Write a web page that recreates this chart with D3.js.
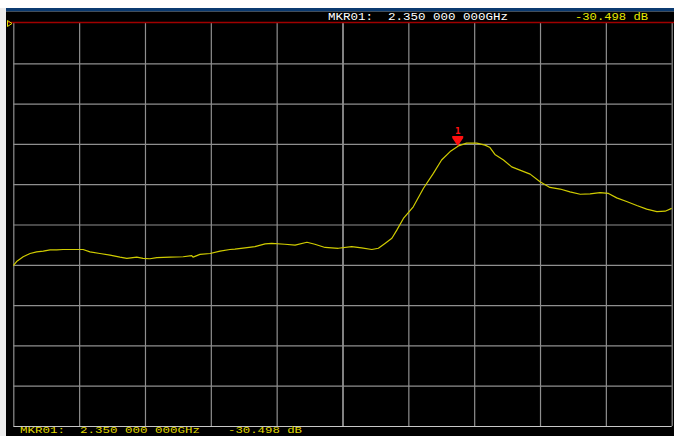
<!DOCTYPE html>
<html>
<head>
<meta charset="utf-8">
<script src="https://cdn.jsdelivr.net/npm/d3@7"></script>
<style>
  html, body { margin: 0; padding: 0; background: #ffffff; }
  svg { display: block; }
</style>
</head>
<body>
<svg id="chart" width="681" height="436"></svg>
<script>
// ---- data ----
const freqGHz = [1.000,1.010,1.030,1.051,1.071,1.091,1.112,1.132,1.151,1.212,1.233,1.263,1.294,1.324,1.345,1.375,1.394,1.415,1.436,1.476,1.516,1.542,1.546,1.567,1.598,1.628,1.658,1.673,1.704,1.734,1.765,1.785,1.825,1.856,1.892,1.916,1.947,1.987,2.028,2.058,2.089,2.109,2.129,2.150,2.165,2.185,2.215,2.246,2.276,2.301,2.327,2.352,2.377,2.408,2.433,2.448,2.463,2.489,2.514,2.539,2.570,2.600,2.630,2.661,2.691,2.722,2.752,2.782,2.808,2.833,2.863,2.894,2.924,2.955,2.980,3.000];
const levelDb = [-60.2,-59.2,-58.0,-57.2,-56.8,-56.6,-56.3,-56.3,-56.2,-56.2,-56.8,-57.2,-57.6,-58.1,-58.4,-58.1,-58.4,-58.5,-58.2,-58.1,-58.0,-57.7,-58.1,-57.4,-57.2,-56.6,-56.2,-56.1,-55.8,-55.5,-54.8,-54.7,-54.9,-55.1,-54.4,-54.9,-55.7,-55.9,-55.5,-55.8,-56.2,-55.9,-54.7,-53.4,-51.4,-48.5,-45.6,-41.0,-37.3,-34.0,-31.9,-30.5,-29.8,-29.8,-30.3,-30.9,-32.6,-34.0,-35.7,-36.5,-37.5,-39.4,-40.8,-41.2,-41.9,-42.5,-42.4,-42.1,-42.3,-43.4,-44.3,-45.3,-46.2,-46.8,-46.7,-46.0];
const freqDomain = [1.0, 3.0];
const dbDomain = [0, -100];
const markerLabel = "1";
const markerFreq = 2.35;
const markerDb = -30.498;
const markerFreqText = "MKR01:  2.350 000 000GHz";
const markerLevelText = "-30.498 dB";

// ---- layout ----
const svg = d3.select("#chart");
const L = 13.3, R = 671.7, T = 23, B = 426;
const x = d3.scaleLinear().domain(freqDomain).range([L, R]);
const y = d3.scaleLinear().domain(dbDomain).range([T, B]);

// frame backgrounds
svg.append("rect").attr("x", 0).attr("y", 0).attr("width", 681).attr("height", 436).attr("fill", "#ffffff");
svg.append("rect").attr("x", 0).attr("y", 8).attr("width", 6).attr("height", 428).attr("fill", "#ececec");
svg.append("rect").attr("x", 6).attr("y", 8).attr("width", 668).attr("height", 3.5).attr("fill", "#0b3a70");
svg.append("rect").attr("x", 6).attr("y", 11.5).attr("width", 668).attr("height", 424.5).attr("fill", "#000000");

// grid via axes
const gx = svg.append("g").attr("transform", `translate(0,${T})`)
  .call(d3.axisBottom(x).ticks(10).tickSize(B - T).tickFormat(""));
gx.select(".domain").remove();
gx.selectAll(".tick line").attr("stroke", d => Math.abs(d - 2.0) < 1e-9 ? "#d8d8d8" : "#8f8f8f").attr("stroke-width", 1.2);

const gy = svg.append("g").attr("transform", `translate(${L},0)`)
  .call(d3.axisRight(y).ticks(10).tickSize(R - L).tickFormat(""));
gy.select(".domain").remove();
gy.selectAll(".tick line").attr("stroke", d => d === 0 ? "none" : (d === -100 ? "#c8c8c8" : "#8f8f8f")).attr("stroke-width", 1.2);

// red reference line at top
svg.append("line").attr("x1", 7).attr("x2", 674).attr("y1", T - 0.5).attr("y2", T - 0.5)
  .attr("stroke", "#a00000").attr("stroke-width", 1.5);

// reference level indicator
svg.append("path").attr("d", "M7.5,20.5 L12,23.5 L7.5,26.5 Z")
  .attr("fill", "none").attr("stroke", "#e0e000").attr("stroke-width", 1);

// trace
const line = d3.line().x((d, i) => x(freqGHz[i])).y((d) => y(d));
svg.append("path").datum(levelDb).attr("d", line)
  .attr("fill", "none").attr("stroke", "#d0cc00").attr("stroke-width", 1.2)
  .attr("stroke-linejoin", "round");

// marker
const mx = x(markerFreq), my = y(markerDb);
svg.append("path")
  .attr("d", `M${mx - 5.5},${my - 10} L${mx + 5.5},${my - 10} L${mx + 5.5},${my - 8} L${mx},${my} L${mx - 5.5},${my - 8} Z`)
  .attr("fill", "#ff1010");
svg.append("text").attr("x", mx).attr("y", my - 11.5).attr("text-anchor", "middle")
  .attr("font-family", "DejaVu Sans, sans-serif").attr("font-weight", "bold").attr("font-size", 8)
  .attr("fill", "#ff1010").text(markerLabel);

// top annotation
const mono = "Liberation Mono, DejaVu Sans Mono, monospace";
svg.append("text").attr("x", 328).attr("y", 20).attr("font-family", mono).attr("font-size", 11.5)
  .attr("fill", "#ffffff").attr("textLength", 180).attr("lengthAdjust", "spacingAndGlyphs")
  .style("white-space", "pre").text(markerFreqText);
svg.append("text").attr("x", 575).attr("y", 20).attr("font-family", mono).attr("font-size", 11.5)
  .attr("fill", "#e8e800").attr("textLength", 73).attr("lengthAdjust", "spacingAndGlyphs")
  .style("white-space", "pre").text(markerLevelText);

// bottom annotation
svg.append("text").attr("x", 20).attr("y", 433.3).attr("font-family", mono).attr("font-size", 9.5)
  .attr("fill", "#e0d800").attr("textLength", 180).attr("lengthAdjust", "spacingAndGlyphs")
  .style("white-space", "pre").text(markerFreqText);
svg.append("text").attr("x", 228).attr("y", 433.3).attr("font-family", mono).attr("font-size", 9.5)
  .attr("fill", "#e0d800").attr("textLength", 74).attr("lengthAdjust", "spacingAndGlyphs")
  .style("white-space", "pre").text(markerLevelText);
</script>
</body>
</html>
